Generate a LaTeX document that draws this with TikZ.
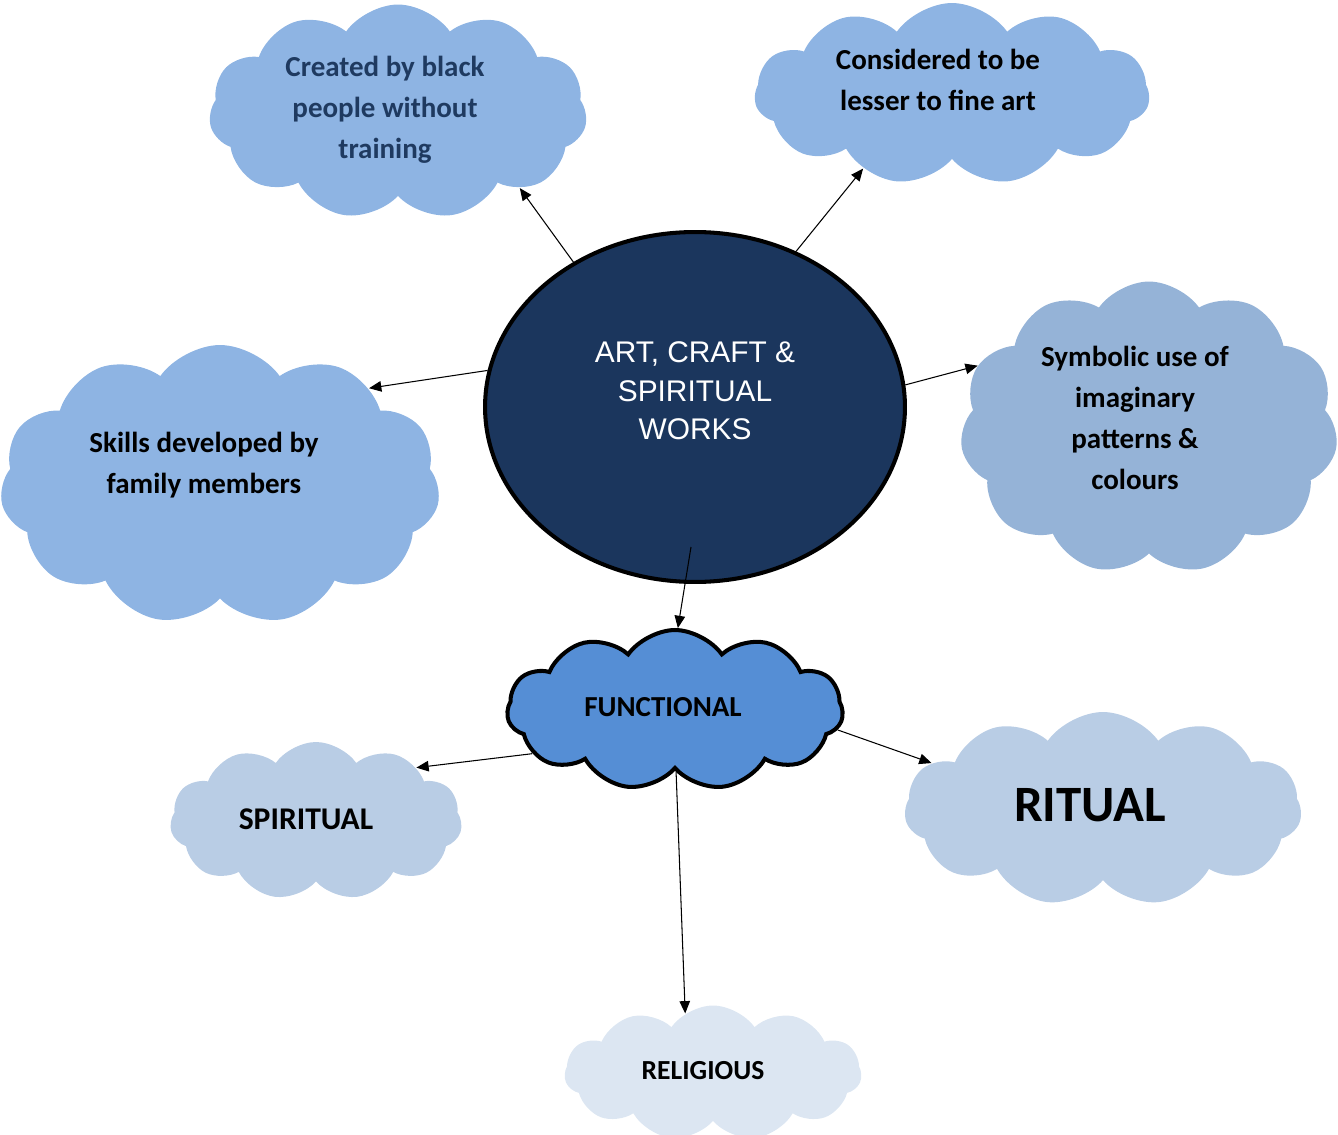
\documentclass[tikz,border=0pt]{standalone}
\usepackage{fontspec}
\setmainfont{Carlito}
\newfontfamily\arialfont{Liberation Sans}
\usetikzlibrary{shapes.symbols, shapes.geometric, arrows.meta, positioning}

\definecolor{skyblue}{HTML}{8EB4E3}
\definecolor{steelblue}{HTML}{95B3D7}
\definecolor{paleblue}{HTML}{B9CDE5}
\definecolor{mistblue}{HTML}{DCE6F2}
\definecolor{midblue}{HTML}{558ED5}
\definecolor{navy}{HTML}{1B365D}
\definecolor{slateink}{HTML}{1F3A60}

\begin{document}
\begin{tikzpicture}[x=0.02cm, y=-0.02cm, >={Triangle[length=7pt,width=6pt]},
  bubble/.style={cloud, cloud puffs=11, cloud puff arc=110, cloud ignores aspect, inner sep=0pt},
  words/.style={align=center, font=\bfseries\fontsize{16.5}{23.3}\selectfont},
  link/.style={->, line width=0.6pt}]
\useasboundingbox (0,0) rectangle (1338,1135);

% main topic
\node[ellipse, draw, line width=2.3pt, fill=navy, minimum width=8.4cm, minimum height=7cm,
  label={[align=center, text=white, font=\arialfont\fontsize{17}{22}\selectfont, yshift=0.32cm]center:ART, CRAFT \&\\SPIRITUAL\\WORKS}]
  (art) at (695,407) {};

% first ring (text sits a little off the cloud centre)
\node[bubble, fill=skyblue, minimum width=7.56cm, minimum height=4.3cm,
  label={[words, text=slateink, xshift=-0.26cm, yshift=0.04cm]center:Created by black\\people without\\training}]
  (created) at (398,112) {};
\node[bubble, fill=skyblue, minimum width=7.9cm, minimum height=3.64cm,
  label={[words, xshift=-0.28cm, yshift=0.28cm]center:Considered to be\\lesser to fine art}]
  (lesser) at (952,94) {};
\node[bubble, fill=skyblue, minimum width=8.8cm, minimum height=5.6cm,
  label={[words, xshift=-0.32cm, yshift=0.4cm]center:Skills developed by\\family members}]
  (skills) at (220,485) {};
\node[bubble, fill=steelblue, minimum width=7.56cm, minimum height=5.86cm,
  label={[words, xshift=-0.28cm, yshift=0.2cm]center:Symbolic use of\\imaginary\\patterns \&\\colours}]
  (symbolic) at (1149,428) {};
\node[bubble, fill=midblue, draw, line width=2.3pt, minimum width=6.72cm, minimum height=3.2cm,
  label={[words, xshift=-0.24cm, yshift=0.06cm]center:FUNCTIONAL}]
  (functional) at (675,710) {};

% uses
\node[bubble, fill=paleblue, minimum width=5.84cm, minimum height=3.16cm,
  label={[words, font=\bfseries\fontsize{18}{22}\selectfont, xshift=-0.2cm, yshift=0.04cm]center:SPIRITUAL}]
  (spiritual) at (316,821) {};
\node[bubble, fill=paleblue, minimum width=7.94cm, minimum height=3.88cm,
  label={[words, font=\bfseries\fontsize{29}{34}\selectfont, xshift=-0.26cm, yshift=0.08cm]center:RITUAL}]
  (ritual) at (1103,809) {};
\node[bubble, fill=mistblue, minimum width=5.94cm, minimum height=2.7cm,
  label={[words, font=\bfseries\fontsize{15.7}{20}\selectfont, xshift=-0.2cm, yshift=0.04cm]center:RELIGIOUS}]
  (religious) at (713,1073) {};

\draw (art.130) edge[link] (created.-32)
      (art.57) edge[link] (lesser.220)
      (art.170) edge[link] (skills.33)
      (art.6) edge[link] (symbolic.160)
      ([xshift=-0.08cm, yshift=0.74cm]art.south) edge[link] (functional.88);
\draw (functional.197) edge[link] (spiritual.28)
      (functional.-7) edge[link] (ritual.165)
      (functional.-89) edge[link] (religious.115);
\end{tikzpicture}
\end{document}
